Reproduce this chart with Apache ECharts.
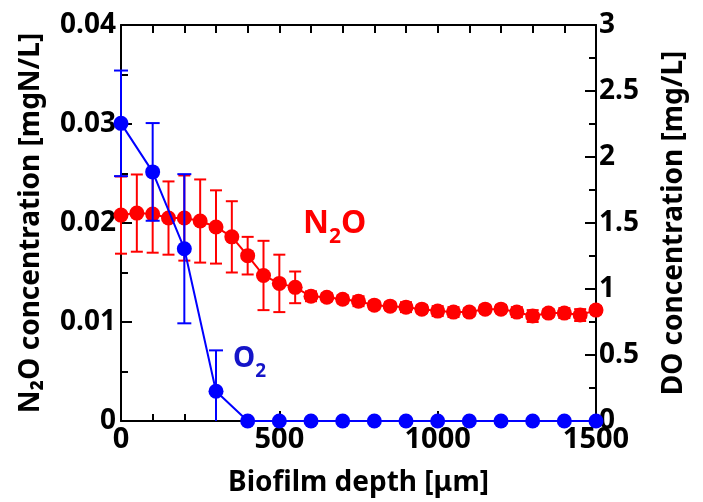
<!DOCTYPE html>
<html lang="en">
<head>
    <meta charset="UTF-8">
    <title>N2O and DO profile in biofilm</title>
    <style>
        html, body { margin: 0; padding: 0; background: #fff; }
        #app { width: 703px; height: 502px; }
    </style>
</head>
<body>
    <div id="app"></div>
    <script src="https://cdn.jsdelivr.net/npm/echarts@6/dist/echarts.min.js"></script>
    <script>
        // N2O profile (every 50 um)
        var depthN2O = [0, 50, 100, 150, 200, 250, 300, 350, 400, 450, 500, 550, 600, 650, 700, 750,
            800, 850, 900, 950, 1000, 1050, 1100, 1150, 1200, 1250, 1300, 1350, 1400, 1450, 1500]
        var n2o = [0.0208, 0.0210, 0.0209, 0.0205, 0.0205, 0.0202, 0.0196, 0.0186, 0.0167, 0.0147, 0.0139, 0.0135,
            0.0126, 0.0125, 0.0123, 0.0121, 0.0117, 0.0116, 0.0115, 0.0113, 0.0111, 0.0110, 0.0110, 0.0113,
            0.0113, 0.0110, 0.0106, 0.0109, 0.0109, 0.0107, 0.0112]
        var n2oErr = [0.0039, 0.0039, 0.0039, 0.0037, 0.0043, 0.0042, 0.0037, 0.0036, 0.0019, 0.0035, 0.0029, 0.0016,
            0.0005, 0.0004, 0.0004, 0.0005, 0.0004, 0.0004, 0.0005, 0.0004, 0.0005, 0.0005, 0.0004, 0.0004,
            0.0004, 0.0005, 0.0006, 0.0004, 0.0005, 0.0006, 0.0004]

        // DO profile (every 100 um)
        var depthDO = [0, 100, 200, 300, 400, 500, 600, 700, 800, 900, 1000, 1100, 1200, 1300, 1400, 1500]
        var dox = [2.255, 1.887, 1.305, 0.225, 0, 0, 0, 0, 0, 0, 0, 0, 0, 0, 0, 0]
        var doErr = [0.40, 0.37, 0.565, 0.31, 0, 0, 0, 0, 0, 0, 0, 0, 0, 0, 0, 0]

        var leftTicks = [0, 0.01, 0.02, 0.03, 0.04]

        var RED = '#ff0000'
        var BLUE = '#0000ff'
        var FONT = 'Noto Sans'

        function pairs(xs, ys) {
            return xs.map(function (x, i) { return [x, ys[i]] })
        }
        function bars(xs, ys, es) {
            return xs.map(function (x, i) { return [x, ys[i] - es[i], ys[i] + es[i]] })
        }
        // error bar with caps; a bar that runs under the axis stops at 0 without a cap
        function errBar(color, cap) {
            return function (params, api) {
                var x = api.value(0)
                var hi = api.value(2)
                var lo = api.value(1)
                if (hi === lo) return null
                var cut = lo < 0
                var top = api.coord([x, hi])
                var bot = api.coord([x, cut ? 0 : lo])
                var w = cap / 2
                var st = { stroke: color, lineWidth: 2 }
                var kids = [
                    { type: 'line', shape: { x1: top[0], y1: top[1], x2: bot[0], y2: bot[1] }, style: st },
                    { type: 'line', shape: { x1: top[0] - w, y1: top[1], x2: top[0] + w, y2: top[1] }, style: st }
                ]
                if (!cut) kids.push({ type: 'line', shape: { x1: bot[0] - w, y1: bot[1], x2: bot[0] + w, y2: bot[1] }, style: st })
                return { type: 'group', children: kids }
            }
        }

        var axisLine = { show: true, onZero: false, lineStyle: { color: '#000', width: 2 } }
        var tickStyle = { width: 2, color: '#000' }
        var labelStyle = { color: '#000', fontFamily: FONT, fontWeight: 'bold', fontSize: 28 }
        var nameStyle = { color: '#000', fontFamily: FONT, fontWeight: 'bold', fontSize: 28 }

        var chart = echarts.init(document.getElementById('app'))
        var option = {
            animation: false,
            backgroundColor: '#fff',
            grid: { left: 121, top: 25, width: 475, height: 398 },
            xAxis: [{
                type: 'value', position: 'bottom', min: 0, max: 1500, interval: 500,
                name: 'Biofilm depth [\u03bcm]', nameLocation: 'middle', nameGap: 48,
                nameTextStyle: nameStyle,
                axisLine: axisLine,
                axisTick: { inside: true, length: 10, lineStyle: tickStyle },
                minorTick: { show: true, splitNumber: 5, length: 7, lineStyle: tickStyle },
                axisLabel: Object.assign({}, labelStyle, {
                    margin: 4, fontSize: 29,
                    formatter: function (v) { return String(v) }
                }),
                splitLine: { show: false }
            }, {
                type: 'value', position: 'top', min: 0, max: 1500, interval: 500,
                axisLine: axisLine,
                axisTick: { inside: true, length: 8, lineStyle: tickStyle },
                minorTick: { show: true, splitNumber: 5, length: 8, lineStyle: tickStyle },
                axisLabel: { show: false },
                splitLine: { show: false }
            }],
            yAxis: [{
                type: 'value', position: 'left', min: 0, max: 0.04, interval: 0.01,
                name: 'N\u2082O concentration [mgN/L]', nameLocation: 'middle', nameGap: 76, nameRotate: 90,
                nameTextStyle: nameStyle,
                axisLine: axisLine,
                axisTick: { inside: true, length: 11, lineStyle: tickStyle },
                minorTick: { show: true, splitNumber: 2, length: 7, lineStyle: tickStyle },
                axisLabel: Object.assign({
                    margin: 5,
                    formatter: function (v) {
                        var i = leftTicks.indexOf(Math.round(v * 100) / 100)
                        return i === 0 ? '0' : leftTicks[i].toFixed(2)
                    }
                }, labelStyle),
                splitLine: { show: false }
            }, {
                type: 'value', position: 'right', min: 0, max: 3, interval: 0.5,
                name: 'DO concentration [mg/L]', nameLocation: 'middle', nameGap: 64, nameRotate: 90,
                nameTextStyle: nameStyle,
                axisLine: axisLine,
                axisTick: { inside: true, length: 11, lineStyle: tickStyle },
                minorTick: { show: true, splitNumber: 2, length: 7, lineStyle: tickStyle },
                axisLabel: Object.assign({ margin: 3 }, labelStyle),
                splitLine: { show: false }
            }],
            series: [{
                name: 'N2O error', type: 'custom', xAxisIndex: 0, yAxisIndex: 0, clip: false, z: 2,
                renderItem: errBar(RED, 12),
                encode: { x: 0, y: [1, 2] },
                data: bars(depthN2O, n2o, n2oErr)
            }, {
                name: 'N2O', type: 'line', xAxisIndex: 0, yAxisIndex: 0, z: 3, clip: false,
                symbol: 'circle', symbolSize: 15,
                itemStyle: { color: RED },
                lineStyle: { color: RED, width: 2 },
                data: pairs(depthN2O, n2o)
            }, {
                name: 'DO error', type: 'custom', xAxisIndex: 0, yAxisIndex: 1, clip: false, z: 4,
                renderItem: errBar(BLUE, 14),
                encode: { x: 0, y: [1, 2] },
                data: bars(depthDO, dox, doErr)
            }, {
                name: 'DO', type: 'line', xAxisIndex: 0, yAxisIndex: 1, z: 5,
                symbol: 'circle', symbolSize: 15, clip: false,
                itemStyle: { color: BLUE },
                lineStyle: { color: BLUE, width: 2 },
                data: pairs(depthDO, dox)
            }],
            graphic: [{
                type: 'text', left: 303, top: 208, z: 10,
                style: {
                    text: '{a|N}{b|2}{a|O}',
                    rich: {
                        a: { fontSize: 32, fontWeight: 'bold', fontFamily: FONT, fill: RED, lineHeight: 34, verticalAlign: 'top' },
                        b: { fontSize: 21, fontWeight: 'bold', fontFamily: FONT, fill: RED, lineHeight: 40, verticalAlign: 'bottom' }
                    }
                }
            }, {
                type: 'text', left: 233, top: 345, z: 10,
                style: {
                    text: '{a|O}{b|2}',
                    rich: {
                        a: { fontSize: 28, fontWeight: 'bold', fontFamily: FONT, fill: '#1414c8', lineHeight: 30, verticalAlign: 'top' },
                        b: { fontSize: 19, fontWeight: 'bold', fontFamily: FONT, fill: '#1414c8', lineHeight: 36, verticalAlign: 'bottom' }
                    }
                }
            }]
        }
        chart.setOption(option)
    </script>
</body>
</html>
